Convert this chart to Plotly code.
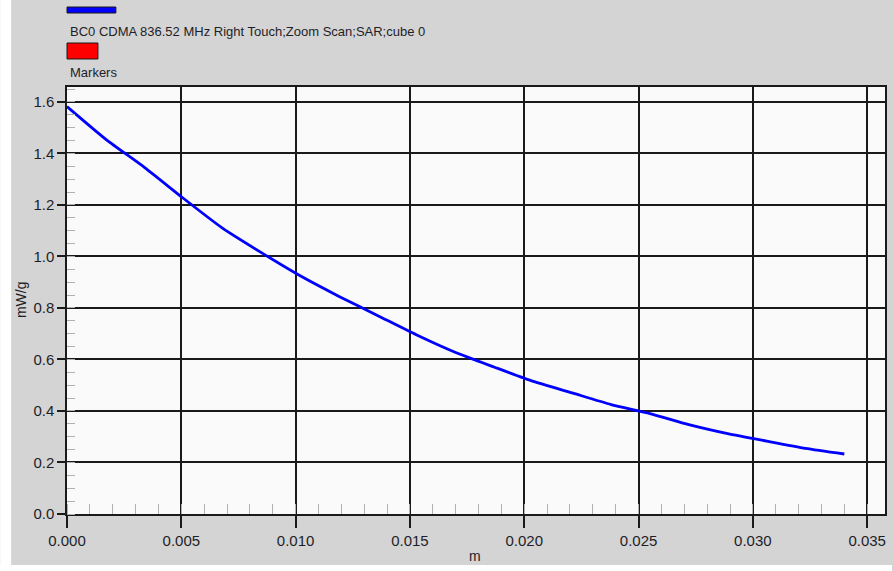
import plotly.graph_objects as go

# Data
depth_m = [0.0, 0.0017, 0.0034, 0.0051, 0.0068, 0.0085, 0.0102, 0.0119, 0.0136,
           0.0153, 0.0170, 0.0187, 0.0204, 0.0221, 0.0238, 0.0255, 0.0272, 0.0289,
           0.0306, 0.0323, 0.0340]
sar_mwg = [1.582, 1.455, 1.345, 1.225, 1.110, 1.015, 0.925, 0.845, 0.770,
           0.695, 0.627, 0.570, 0.515, 0.470, 0.425, 0.390, 0.347, 0.312,
           0.283, 0.255, 0.233]
series_name = "BC0 CDMA 836.52 MHz Right Touch;Zoom Scan;SAR;cube 0"
markers_name = "Markers"
x_title = "m"
y_title = "mW/g"
x_ticks = [0.000, 0.005, 0.010, 0.015, 0.020, 0.025, 0.030, 0.035]
y_ticks = [0.0, 0.2, 0.4, 0.6, 0.8, 1.0, 1.2, 1.4, 1.6]

W, H = 894, 571
L, R, T, B = 67, 7, 87, 57
pw, ph = W - L - R, H - T - B

def px(xp):
    return (xp - L) / pw

def py(yp):
    return (H - B - yp) / ph

fig = go.Figure()
fig.add_trace(go.Scatter(x=depth_m, y=sar_mwg, mode="lines", name=series_name,
                         line=dict(color="#0000ff", width=2.8, shape="spline", smoothing=0.6),
                         showlegend=False))

font_col = "#1e1e28"
FONT = "Liberation Sans, Arial, sans-serif"
axis_common = dict(
    showline=True, linecolor="#1a1a1a", linewidth=1.5, mirror=True,
    showgrid=True, gridcolor="#1a1a1a", gridwidth=1.5,
    ticks="outside", tickcolor="#1a1a1a", tickwidth=1.5,
    zeroline=False, tickfont=dict(family=FONT, size=15, color=font_col),
)

fig.update_layout(
    width=W, height=H,
    margin=dict(l=L, r=R, t=T, b=B),
    paper_bgcolor="#d4d4d4",
    plot_bgcolor="#fafafa",
    font=dict(family=FONT, size=13, color=font_col),
    xaxis=dict(range=[0, 0.03578], tickvals=x_ticks, tickformat=".3f", ticklen=12,
               minor=dict(dtick=0.001, tick0=0, ticks="inside", ticklen=10,
                          tickcolor="#b0b0b0", tickwidth=1, showgrid=False),
               **axis_common),
    yaxis=dict(range=[0, 1.658], tickvals=y_ticks, tickformat=".1f", ticklen=8,
               minor=dict(dtick=0.05, tick0=0, ticks="inside", ticklen=8,
                          tickcolor="#b0b0b0", tickwidth=1, showgrid=False),
               **axis_common),
    shapes=[
        # white strips at left and bottom of the image
        dict(type="rect", xref="paper", yref="paper", x0=px(0), x1=px(11), y0=py(0), y1=py(H),
             fillcolor="white", line=dict(width=0), layer="above"),
        dict(type="rect", xref="paper", yref="paper", x0=px(0), x1=px(W), y0=py(565), y1=py(H),
             fillcolor="white", line=dict(width=0), layer="above"),
        # legend swatches
        dict(type="rect", xref="paper", yref="paper", x0=px(67), x1=px(116), y0=py(13), y1=py(7),
             fillcolor="#0000ff", line=dict(color="#1a1a1a", width=1), layer="above"),
        dict(type="rect", xref="paper", yref="paper", x0=px(67), x1=px(98), y0=py(59), y1=py(43),
             fillcolor="#ff0000", line=dict(color="#1a1a1a", width=1), layer="above"),
    ],
    annotations=[
        dict(text=series_name, xref="paper", yref="paper", x=px(68), y=py(31),
             xanchor="left", yanchor="middle", showarrow=False,
             font=dict(size=13, color=font_col)),
        dict(text=markers_name, xref="paper", yref="paper", x=px(68), y=py(73),
             xanchor="left", yanchor="middle", showarrow=False,
             font=dict(size=13, color=font_col)),
        dict(text=x_title, xref="paper", yref="paper", x=px(476), y=py(556),
             xanchor="center", yanchor="middle", showarrow=False,
             font=dict(size=14, color=font_col)),
        dict(text=y_title, xref="paper", yref="paper", x=px(21), y=py(300),
             xanchor="center", yanchor="middle", showarrow=False, textangle=-90,
             font=dict(size=14, color=font_col)),
    ],
)

fig.write_html("out.html", config={"displayModeBar": False},
               post_script="document.body.style.margin='0';document.body.style.padding='0';")
